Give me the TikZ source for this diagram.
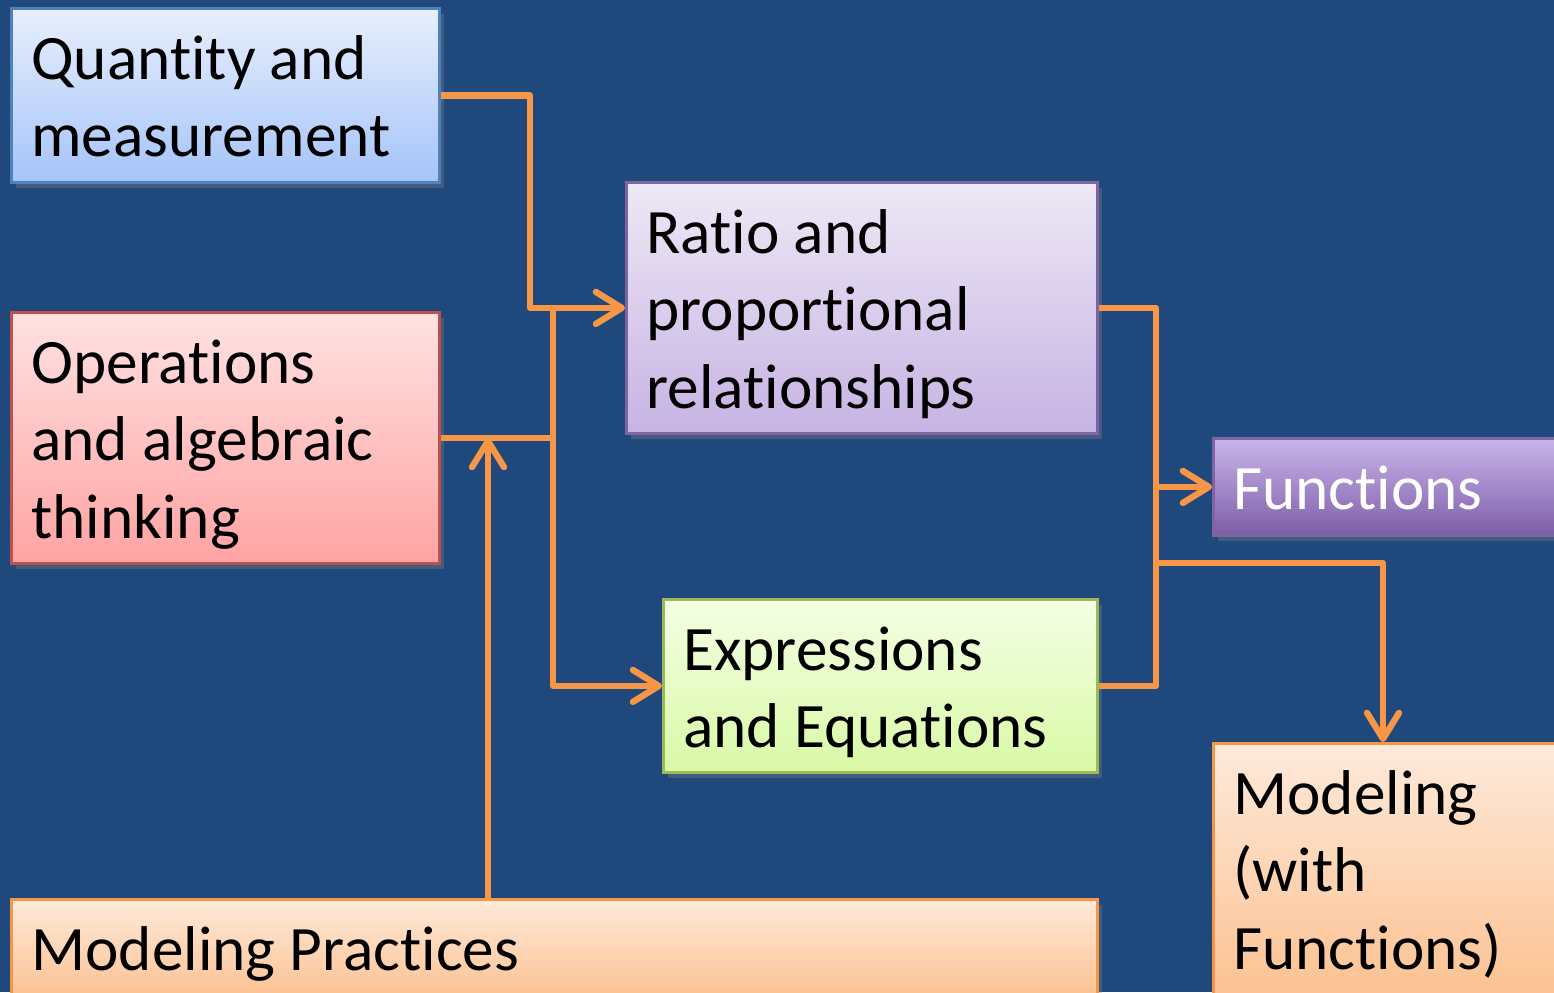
\documentclass[tikz,border=0pt]{standalone}
\usepackage{fontspec}
\setmainfont{Carlito}[Ligatures={NoCommon}]
\usepackage{xcolor}
\usetikzlibrary{positioning,arrows.meta,shadows}
\definecolor{slideblue}{RGB}{31,73,125}
\definecolor{linkorange}{RGB}{247,150,70}
\definecolor{qtytop}{RGB}{232,239,253}
\definecolor{qtybot}{RGB}{165,196,249}
\definecolor{qtyline}{RGB}{79,129,189}
\definecolor{opstop}{RGB}{255,226,226}
\definecolor{opsbot}{RGB}{255,163,163}
\definecolor{opsline}{RGB}{192,80,77}
\definecolor{ratiotop}{RGB}{238,232,246}
\definecolor{ratiobot}{RGB}{198,179,227}
\definecolor{purpleline}{RGB}{128,100,162}
\definecolor{functop}{RGB}{201,181,234}
\definecolor{funcbot}{RGB}{126,93,168}
\definecolor{exprtop}{RGB}{244,255,229}
\definecolor{exprbot}{RGB}{217,249,165}
\definecolor{exprline}{RGB}{155,187,89}
\definecolor{modtop}{RGB}{254,234,219}
\definecolor{modbot}{RGB}{252,192,143}

\begin{document}
\begin{tikzpicture}[
  >={Straight Barb[length=2.6mm,width=3.2mm,round]},
  blk/.style={rectangle,anchor=north west,align=flush left,inner xsep=2mm,inner ysep=0pt,font=\fontsize{18}{22}\selectfont,text height=7.1mm,line width=0.8pt,drop shadow={opacity=0.35,shadow xshift=0.5mm,shadow yshift=-0.6mm}},
  ln/.style={linkorange,line width=1.8pt,line join=round},
  ar/.style={ln,->}
]
\clip (0,0) rectangle (15.54,-9.92);
\fill[slideblue] (0,0) rectangle (15.54,-9.92);

% LEFT: input topics
\node[blk,top color=qtytop,bottom color=qtybot,draw=qtyline,text width=3.88cm,text depth=10.3mm] (qty) at (0.10,-0.07) {Quantity and\\measurement};
\node[blk,top color=opstop,bottom color=opsbot,draw=opsline,text width=3.88cm,text depth=18.0mm] (ops) at (0.10,-3.11) {Operations\\and algebraic\\thinking};

% MIDDLE
\node[blk,top color=ratiotop,bottom color=ratiobot,draw=purpleline,text width=4.31cm,text depth=18.0mm] (ratio) at (6.25,-1.81) {Ratio and\\proportional\\relationships};
\node[blk,top color=exprtop,bottom color=exprbot,draw=exprline,text width=3.94cm,text depth=10.2mm] (expr) at (6.62,-5.98) {Expressions\\and Equations};

% RIGHT: outcomes
\node[blk,top color=functop,bottom color=funcbot,draw=purpleline,text width=3.10cm,text depth=2.6mm,text=white] (func) at (12.12,-4.37) {Functions};
\node[blk,top color=modtop,bottom color=modbot,draw=linkorange,text width=3.10cm,text depth=19.0mm] (modfn) at (12.12,-7.42) {Modeling\\(with\\Functions)};

% BOTTOM
\node[blk,top color=modtop,bottom color=modbot,draw=linkorange,text width=10.46cm,text depth=3.0mm] (modpr) at (0.10,-8.98) {Modeling Practices};

% bus lines
\coordinate (busq) at (5.30,0);
\coordinate (busop) at (5.53,0);
\coordinate (mpup) at (4.88,0);
\coordinate (busout) at (11.56,0);
\coordinate (fork) at (13.83,-5.63);

\draw[ar] (qty.east) -| (busq |- ratio.west) -- (ratio.west);
\draw[ln] (busop |- ratio.west) -- (busop |- ops.east);
\draw[ar] (ops.east) -| (busop |- expr.west) -- (expr.west);
\draw[ar] (mpup |- modpr.north) -- (mpup |- ops.east);

\draw[ln] (ratio.east) -| (busout |- expr.east) -- (expr.east);
\draw[ar] (busout |- func.west) -- (func.west);
\draw[ar] (busout |- fork) -- (fork) -- (fork |- modfn.north);

\end{tikzpicture}
\end{document}
